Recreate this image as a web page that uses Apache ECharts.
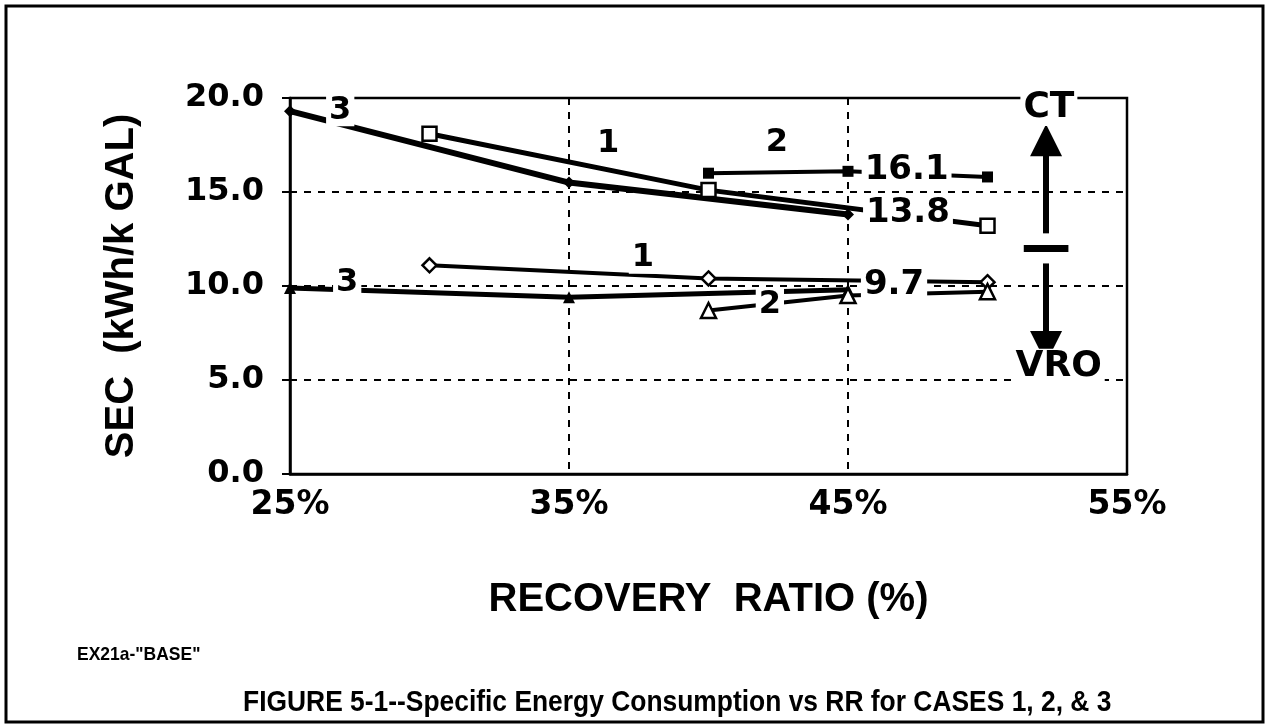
<!DOCTYPE html>
<html>
<head>
<meta charset="utf-8">
<title>FIGURE 5-1</title>
<script src="https://cdn.jsdelivr.net/npm/echarts@6/dist/echarts.min.js"></script>
<style>
  html, body { margin: 0; padding: 0; background: #fff; }
  #chart { width: 1267px; height: 727px; }
</style>
</head>
<body>
<div id="chart"></div>
<script>
// recovery ratio ticks (%)
var xTicks = [25, 35, 45, 55];
var yTicks = [0, 5, 10, 15, 20];

// CT cases  [RR %, SEC]
var ctCase1 = [[30, 18.1], [40, 15.1], [50, 13.2]];
var ctCase2 = [[40, 16.0], [45, 16.1], [50, 15.8]];
var ctCase3 = [[25, 19.3], [35, 15.5], [45, 13.8]];

// VRO cases
var vroCase1 = [[30, 11.1], [40, 10.4], [50, 10.2]];
var vroCase2 = [[40, 8.7], [45, 9.5], [50, 9.7]];
var vroCase3 = [[25, 9.9], [35, 9.4], [45, 9.8]];

// text put on the plot  [RR %, SEC, text]
var numberNotes = [[47.1, 16.15, '16.1'], [47.15, 13.85, '13.8'], [46.65, 10.05, '9.7']];
var caseNotes = [
  [26.8, 19.35, '3'], [36.4, 17.55, '1'], [42.45, 17.6, '2'],
  [27.05, 10.2, '3'], [37.65, 11.5, '1'], [42.2, 9.0, '2']
];
var sideNotes = [[52.2, 19.47, 'CT'], [52.55, 5.7, 'VRO']];

var chart = echarts.init(document.getElementById('chart'));

function lineSeries(name, data, symbol, size, filled, width) {
  return {
    name: name,
    type: 'line',
    data: data,
    symbol: symbol,
    symbolSize: size,
    showSymbol: true,
    z: 3,
    lineStyle: { color: '#000', width: width },
    itemStyle: {
      color: filled ? '#000' : '#fff',
      borderColor: '#000',
      borderWidth: filled ? 0 : 2.5
    },
    emphasis: { disabled: true },
    animation: false
  };
}

function notePoints(list, font, size) {
  return list.map(function (n) {
    return {
      coord: [n[0], n[1]],
      value: n[2],
      label: {
        show: true,
        position: 'inside',
        formatter: n[2],
        fontFamily: font,
        fontWeight: 'bold',
        fontSize: size,
        color: '#000',
        backgroundColor: '#fff',
        padding: [0, 3, 0, 3]
      }
    };
  });
}

var arrowLines = [
  [{ coord: [52.1, 12.8] }, { coord: [52.1, 17.75] }],
  [{ coord: [52.1, 11.2] }, { coord: [52.1, 6.75] }]
];
var barLine = [[{ coord: [51.3, 12.0] }, { coord: [52.9, 12.0] }]];

var options = {
  backgroundColor: '#fff',
  animation: false,
  grid: {
    left: 290,
    right: 140,
    top: 98,
    bottom: 253,
    show: true,
    borderColor: '#000',
    borderWidth: 2.5,
    backgroundColor: 'transparent'
  },
  xAxis: {
    type: 'value',
    min: xTicks[0],
    max: xTicks[xTicks.length - 1],
    interval: 10,
    name: 'RECOVERY  RATIO (%)',
    nameLocation: 'middle',
    nameGap: 106,
    nameTextStyle: {
      fontFamily: 'Liberation Sans',
      fontWeight: 'bold',
      fontSize: 40,
      color: '#000'
    },
    axisLine: { show: true, lineStyle: { color: '#000', width: 2.5 } },
    axisTick: { show: false },
    axisLabel: {
      margin: 15,
      formatter: '{value}%',
      fontFamily: 'DejaVu Sans',
      fontWeight: 'bold',
      fontSize: 33,
      color: '#000'
    },
    splitLine: { show: true, lineStyle: { color: '#000', width: 2, type: [7, 7] } }
  },
  yAxis: {
    type: 'value',
    min: yTicks[0],
    max: yTicks[yTicks.length - 1],
    interval: 5,
    name: 'SEC  (kWh/k GAL)',
    nameLocation: 'middle',
    nameGap: 148,
    nameTextStyle: {
      fontFamily: 'Liberation Sans',
      fontWeight: 'bold',
      fontSize: 40,
      color: '#000'
    },
    axisLine: { show: true, lineStyle: { color: '#000', width: 2.5 } },
    axisTick: { show: true, length: 8, lineStyle: { color: '#000', width: 2 } },
    axisLabel: {
      margin: 26,
      formatter: function (v) { return v.toFixed(1); },
      fontFamily: 'DejaVu Sans',
      fontWeight: 'bold',
      fontSize: 32,
      color: '#000'
    },
    splitLine: { show: true, lineStyle: { color: '#000', width: 2, type: [7, 7] } }
  },
  graphic: [
    {
      type: 'rect',
      shape: { x: 6, y: 6, width: 1257, height: 716 },
      style: { fill: 'none', stroke: '#000', lineWidth: 3 },
      silent: true
    },
    {
      type: 'text',
      x: 77,
      y: 655,
      scaleX: 0.92,
      style: {
        text: 'EX21a-"BASE"',
        font: 'bold 19px "Liberation Sans"',
        fill: '#000',
        textVerticalAlign: 'middle'
      }
    },
    {
      type: 'text',
      x: 243,
      y: 703,
      scaleX: 0.88,
      style: {
        text: 'FIGURE 5-1--Specific Energy Consumption vs RR for CASES 1, 2, & 3',
        font: 'bold 30px "Liberation Sans"',
        fill: '#000',
        textVerticalAlign: 'middle'
      }
    }
  ],
  series: [
    lineSeries('CT 3', ctCase3, 'diamond', 12, true, 6),
    lineSeries('CT 1', ctCase1, 'rect', 14, false, 5),
    lineSeries('CT 2', ctCase2, 'rect', 11, true, 4),
    lineSeries('VRO 1', vroCase1, 'diamond', 14, false, 4),
    lineSeries('VRO 3', vroCase3, 'triangle', 12, true, 5),
    lineSeries('VRO 2', vroCase2, 'triangle', 15, false, 4),
    {
      name: 'notes',
      type: 'scatter',
      data: [],
      z: 10,
      silent: true,
      markPoint: {
        symbol: 'rect',
        symbolSize: 0,
        silent: true,
        data: notePoints(numberNotes, 'DejaVu Sans', 34)
          .concat(notePoints(caseNotes, 'DejaVu Sans', 32))
          .concat(notePoints(sideNotes, 'DejaVu Sans', 36))
      },
      markLine: {
        silent: true,
        symbol: ['none', 'triangle'],
        symbolSize: 32,
        label: { show: false },
        lineStyle: { color: '#000', width: 6, type: 'solid' },
        emphasis: { disabled: true },
        data: arrowLines
      }
    },
    {
      name: 'divider',
      type: 'scatter',
      data: [],
      z: 10,
      silent: true,
      markLine: {
        silent: true,
        symbol: ['none', 'none'],
        label: { show: false },
        lineStyle: { color: '#000', width: 7, type: 'solid' },
        emphasis: { disabled: true },
        data: barLine
      }
    }
  ]
};

chart.setOption(options);
</script>
</body>
</html>
